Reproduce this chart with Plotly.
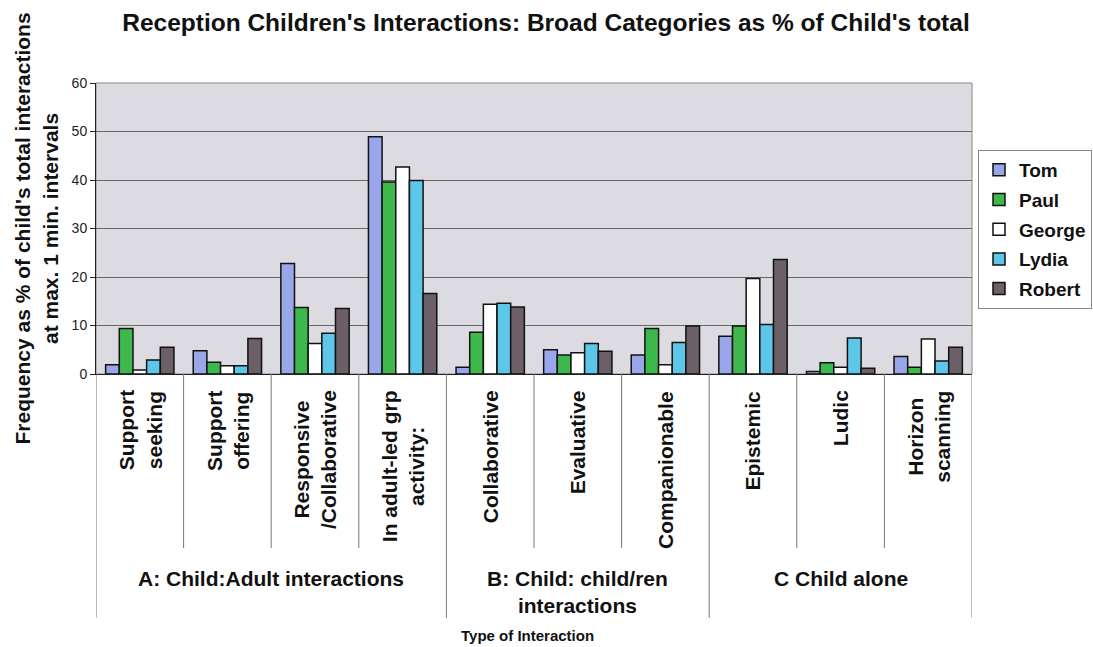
import plotly.graph_objects as go

# ---- data ----
categories = ["Support<br>seeking", "Support<br>offering", "Responsive<br>/Collaborative",
              "In adult-led grp<br>activity:", "Collaborative", "Evaluative",
              "Companionable", "Epistemic", "Ludic", "Horizon<br>scanning"]
groups = ["A: Child:Adult interactions", "B: Child: child/ren<br>interactions", "C Child alone"]
group_sizes = [4, 3, 3]

children = ["Tom", "Paul", "George", "Lydia", "Robert"]
tom = [1.9, 4.8, 22.8, 48.9, 1.4, 5.0, 3.9, 7.8, 0.5, 3.6]
paul = [9.4, 2.4, 13.7, 39.6, 8.6, 3.9, 9.4, 9.9, 2.3, 1.4]
george = [0.8, 1.7, 6.3, 42.7, 14.4, 4.4, 1.9, 19.7, 1.4, 7.2]
lydia = [2.9, 1.7, 8.4, 39.9, 14.6, 6.3, 6.5, 10.2, 7.4, 2.7]
robert = [5.5, 7.3, 13.5, 16.6, 13.8, 4.7, 9.9, 23.6, 1.2, 5.5]
series = [tom, paul, george, lydia, robert]
colors = ["#9aa6ea", "#3db84d", "#ffffff", "#5cc7e8", "#6c5f67"]

yticks = [0, 10, 20, 30, 40, 50, 60]

title = "Reception Children's Interactions: Broad Categories as % of Child's total"
ytitle = "Frequency as % of child's total interactions<br>at max. 1 min. intervals"
xtitle = "Type of Interaction"

FONT = "Liberation Sans, Arial, sans-serif"
xs = list(range(len(categories)))

fig = go.Figure()
for name, vals, col in zip(children, series, colors):
    fig.add_trace(go.Bar(
        x=xs, y=vals, name=name, legendgroup=name,
        marker=dict(color=col, line=dict(color="#111111", width=1.5)),
    ))

# category labels (rotated)
annotations = []
for i, lab in enumerate(categories):
    annotations.append(dict(
        x=i, y=-0.05, xref="x", yref="paper", text=lab, showarrow=False,
        textangle=-90, xanchor="center", yanchor="top", align="center",
        font=dict(family=FONT, size=21, color="#111111", weight="bold"),
    ))

# group labels and separators
shapes = []
start = 0
inner_bottom = -0.598
outer_bottom = -0.838
for g, n in zip(groups, group_sizes):
    center = start + (n - 1) / 2
    annotations.append(dict(
        x=center, y=-0.655, xref="x", yref="paper", text=g, showarrow=False,
        xanchor="center", yanchor="top", align="center",
        font=dict(family=FONT, size=21, color="#111111", weight="bold"),
    ))
    shapes.append(dict(type="line", xref="x", yref="paper",
                       x0=start - 0.5, x1=start - 0.5, y0=0, y1=outer_bottom,
                       line=dict(color="#777777", width=1)))
    for k in range(1, n):
        xb = start + k - 0.5
        shapes.append(dict(type="line", xref="x", yref="paper",
                           x0=xb, x1=xb, y0=0, y1=inner_bottom,
                           line=dict(color="#777777", width=1)))
    start += n
shapes.append(dict(type="line", xref="x", yref="paper",
                   x0=start - 0.5, x1=start - 0.5, y0=0, y1=outer_bottom,
                   line=dict(color="#777777", width=1)))

# y axis title
annotations.append(dict(
    x=-0.0685, y=0.5, xref="paper", yref="paper", text=ytitle, showarrow=False,
    textangle=-90, xanchor="center", yanchor="middle", align="center",
    font=dict(family=FONT, size=21, color="#111111", weight="bold"),
))
# x axis title
annotations.append(dict(
    x=0.493, y=-0.897, xref="paper", yref="paper", text=xtitle, showarrow=False,
    xanchor="center", yanchor="middle",
    font=dict(family=FONT, size=15, color="#111111", weight="bold"),
))

fig.update_layout(
    width=1093, height=647,
    margin=dict(l=96, r=121, t=83, b=273, autoexpand=False),
    paper_bgcolor="white", plot_bgcolor="#dddbe2",
    barmode="group", bargap=0.22, bargroupgap=0,
    title=dict(text=title, x=0.4995, xref="container", xanchor="center",
               y=1 - 22 / 647, yref="container", yanchor="middle",
               font=dict(family=FONT, size=24.5, color="#111111", weight="bold")),
    legend=dict(x=978 / 1093, xref="container", xanchor="left", y=0.77, yanchor="top",
                bordercolor="#888888", borderwidth=1, bgcolor="white",
                tracegroupgap=2,
                font=dict(family=FONT, size=19, color="#111111", weight="bold")),
    xaxis=dict(range=[-0.5, len(categories) - 0.5], showticklabels=False,
               showgrid=False, zeroline=False, showline=True, linecolor="#222222",
               linewidth=1, mirror=False, ticks=""),
    yaxis=dict(range=[0, 60], tickvals=yticks, showgrid=True, gridcolor="#666666",
               gridwidth=1, zeroline=False, showline=True, linecolor="#222222",
               linewidth=1, ticks="outside", ticklen=5, tickcolor="#222222",
               tickfont=dict(family=FONT, size=14, color="#222222")),
    annotations=annotations,
    shapes=shapes + [dict(type="rect", xref="paper", yref="paper", x0=0, x1=1, y0=0, y1=1,
                          line=dict(color="#888888", width=1), layer="below")],
    showlegend=True,
)

fig.write_html("out.html")
